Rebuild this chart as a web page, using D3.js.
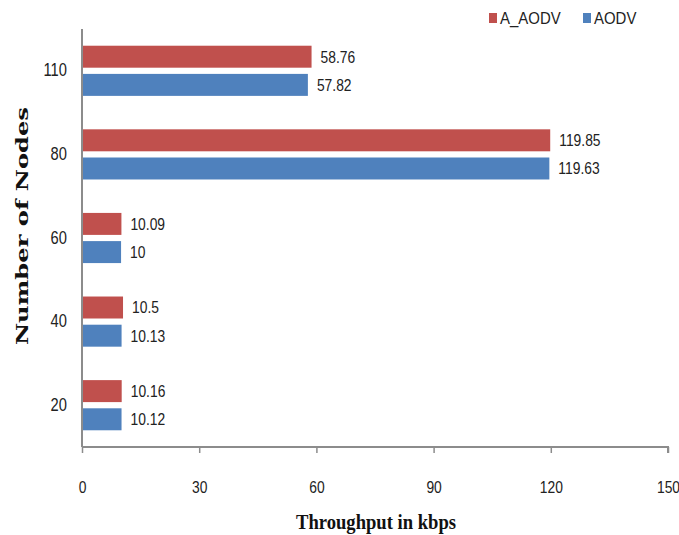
<!DOCTYPE html>
<html>
<head>
<meta charset="utf-8">
<script src="https://cdn.jsdelivr.net/npm/d3@7/dist/d3.min.js"></script>
<style>
  html, body { margin: 0; padding: 0; background: #fff; }
  svg { display: block; }
  .narrow { font-family: "Liberation Sans", Arial, sans-serif; }
</style>
</head>
<body>
<svg id="chart" width="679" height="535"></svg>
<script>
// Throughput per node count for the two routing protocols
const nodeCounts = ["110", "80", "60", "40", "20"];
const seriesNames = ["A_AODV", "AODV"];
const aAodvValues = [58.76, 119.85, 10.09, 10.5, 10.16];
const aodvValues  = [57.82, 119.63, 10, 10.13, 10.12];
const xTicks = [0, 30, 60, 90, 120, 150];
const seriesColors = ["#C0504D", "#4F81BD"];

const rows = nodeCounts.map((n, i) => ({
  nodes: n,
  values: [
    { series: seriesNames[0], value: aAodvValues[i] },
    { series: seriesNames[1], value: aodvValues[i] }
  ]
}));

const svg = d3.select("#chart");
const plot = { left: 82, right: 668, top: 29, bottom: 447 };
const axisColor = "#8c8c8c";
const squeeze = 0.84; // horizontal condensing of the sans labels

const x = d3.scaleLinear().domain([0, 150]).range([plot.left, plot.right]);
const y = d3.scaleBand().domain(nodeCounts).range([plot.top, plot.bottom]).paddingInner(0.4).paddingOuter(0.2);
const ySub = d3.scaleBand().domain(seriesNames).range([0, y.bandwidth()]).paddingInner(0.22);
const color = d3.scaleOrdinal().domain(seriesNames).range(seriesColors);

// bars
const groups = svg.append("g").selectAll("g")
  .data(rows).join("g")
  .attr("transform", d => `translate(0,${y(d.nodes)})`);

groups.selectAll("rect")
  .data(d => d.values).join("rect")
  .attr("x", x(0))
  .attr("y", d => ySub(d.series))
  .attr("width", d => x(d.value) - x(0))
  .attr("height", ySub.bandwidth())
  .attr("fill", d => color(d.series));

// value labels
groups.selectAll("text")
  .data(d => d.values).join("text")
  .attr("class", "narrow")
  .attr("transform", d => `translate(${x(d.value) + 9},${ySub(d.series) + ySub.bandwidth() / 2}) scale(${squeeze},1)`)
  .attr("dy", "0.36em")
  .attr("font-size", 16.5)
  .attr("fill", "#222")
  .text(d => d.value);

// x axis
const xAxis = svg.append("g")
  .attr("transform", `translate(0,${plot.bottom})`)
  .call(d3.axisBottom(x).tickValues(xTicks).tickSize(6).tickPadding(28).tickFormat(d3.format("d")));
xAxis.select(".domain").attr("stroke", axisColor).attr("stroke-width", 2).attr("d", `M${plot.left},0H${plot.right}V6`);
xAxis.selectAll(".tick line").attr("stroke", axisColor).attr("stroke-width", 1.5);
xAxis.selectAll(".tick text").attr("class", "narrow").attr("font-size", 16.5).attr("fill", "#222")
  .attr("transform", `scale(${squeeze},1)`);

// y axis
const yAxis = svg.append("g")
  .attr("transform", `translate(${plot.left},0)`)
  .call(d3.axisLeft(y).tickSize(0).tickPadding(18));
yAxis.select(".domain").attr("stroke", axisColor).attr("stroke-width", 2).attr("d", `M0,${plot.top}V${plot.bottom}`);
yAxis.selectAll(".tick text").attr("class", "narrow").attr("font-size", 17.5).attr("fill", "#222")
  .attr("transform", `scale(${squeeze},1)`);

// axis titles
svg.append("text")
  .attr("x", 376).attr("y", 529)
  .attr("text-anchor", "middle")
  .attr("font-family", "Liberation Serif, serif")
  .attr("font-weight", "bold")
  .attr("font-size", 22)
  .attr("textLength", 160)
  .attr("lengthAdjust", "spacingAndGlyphs")
  .attr("fill", "#111")
  .text("Throughput in kbps");

svg.append("text")
  .attr("transform", "translate(28,226) rotate(-90)")
  .attr("text-anchor", "middle")
  .attr("font-family", "DejaVu Serif, serif")
  .attr("font-weight", "bold")
  .attr("font-size", 17)
  .attr("textLength", 238)
  .attr("lengthAdjust", "spacingAndGlyphs")
  .attr("fill", "#111")
  .text("Number of Nodes");

// legend
const legendX = [489, 583];
const legend = svg.append("g").selectAll("g")
  .data(seriesNames).join("g")
  .attr("transform", (d, i) => `translate(${legendX[i]},0)`);
legend.append("rect")
  .attr("x", 0).attr("y", 13).attr("width", 8).attr("height", 10)
  .attr("fill", d => color(d));
legend.append("text")
  .attr("class", "narrow")
  .attr("transform", `translate(11,18) scale(0.88,1)`)
  .attr("dy", "0.36em")
  .attr("font-size", 17)
  .attr("fill", "#222")
  .text(d => d);
</script>
</body>
</html>
